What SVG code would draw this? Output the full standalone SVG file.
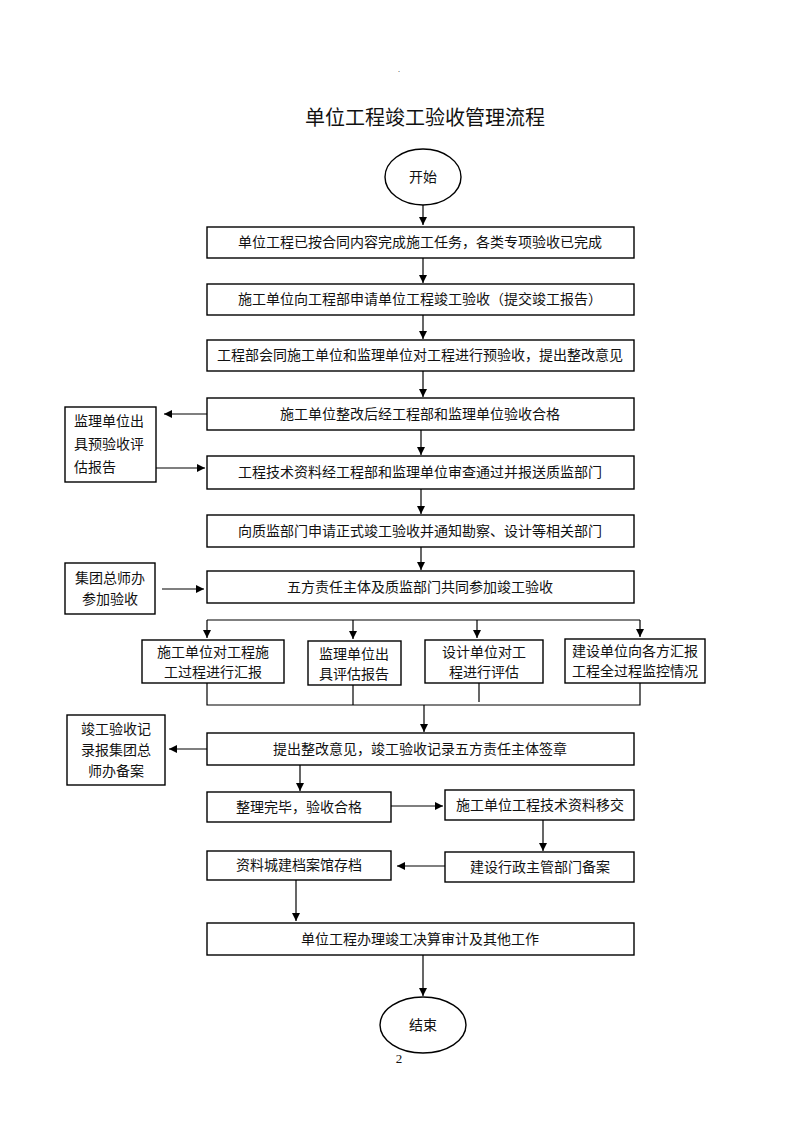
<svg xmlns="http://www.w3.org/2000/svg" width="800" height="1132" viewBox="0 0 800 1132">
<defs>
<marker id="ah" viewBox="0 0 10 10" refX="10" refY="5" markerWidth="8" markerHeight="8" markerUnits="userSpaceOnUse" orient="auto">
<path d="M0,0 L10,5 L0,10 z" fill="#000"/>
</marker>
<style>
text{font-family:"Liberation Serif","Noto Sans CJK SC",serif;font-size:14px;fill:#111;}
.c{text-anchor:middle;}
.t{font-size:20px;}
rect,ellipse{fill:#fff;stroke:#000;stroke-width:1.4;}
#connectors path,#connectors line{stroke:#000;stroke-width:1.2;fill:none;}
.a{marker-end:url(#ah);}
</style>
</defs>
<rect x="0" y="0" width="800" height="1132" style="fill:#fff;stroke:none"/>
<text x="399" y="72" class="c" style="font-size:8px">.</text>
<text x="425" y="125" class="c t">单位工程竣工验收管理流程</text>

<g id="connectors">
<line class="a" x1="423" y1="205" x2="423" y2="225"/>
<line class="a" x1="423" y1="258" x2="423" y2="283"/>
<line class="a" x1="423" y1="315" x2="423" y2="339"/>
<line class="a" x1="423" y1="371" x2="423" y2="397"/>
<line class="a" x1="207" y1="414" x2="164" y2="414"/>
<line class="a" x1="156" y1="468" x2="205" y2="468"/>
<line class="a" x1="421" y1="430" x2="421" y2="455"/>
<line class="a" x1="421" y1="489" x2="421" y2="514"/>
<line class="a" x1="421" y1="547" x2="421" y2="570"/>
<line class="a" x1="162" y1="589" x2="204" y2="589"/>
<path d="M207,620 L640,620"/>
<line class="a" x1="207" y1="620" x2="207" y2="638"/>
<line class="a" x1="353" y1="620" x2="353" y2="639"/>
<line class="a" x1="477" y1="620" x2="477" y2="638"/>
<line class="a" x1="640" y1="620" x2="640" y2="637"/>
<path d="M207,683 L207,705 L640,705 L640,683"/>
<path d="M353,685 L353,705"/>
<path d="M479,683 L479,702"/>
<line class="a" x1="424" y1="705" x2="424" y2="732"/>
<line class="a" x1="207" y1="749" x2="169" y2="749"/>
<line class="a" x1="300" y1="765" x2="300" y2="791"/>
<line class="a" x1="391" y1="806" x2="443" y2="806"/>
<line class="a" x1="543" y1="820" x2="543" y2="851"/>
<line class="a" x1="445" y1="866" x2="397" y2="866"/>
<line class="a" x1="296" y1="880" x2="296" y2="921"/>
<line class="a" x1="423" y1="955" x2="423" y2="996"/>
</g>

<g id="start"><ellipse cx="423" cy="177" rx="38" ry="28"/><text x="423" y="182" class="c">开始</text></g>
<g id="n1"><rect x="207" y="227" width="427" height="31"/><text x="420" y="247" class="c">单位工程已按合同内容完成施工任务，各类专项验收已完成</text></g>
<g id="n2"><rect x="207" y="284" width="427" height="31"/><text x="420" y="304" class="c">施工单位向工程部申请单位工程竣工验收（提交竣工报告）</text></g>
<g id="n3"><rect x="207" y="340" width="427" height="31"/><text x="420" y="360" class="c">工程部会同施工单位和监理单位对工程进行预验收，提出整改意见</text></g>
<g id="n4"><rect x="207" y="398" width="427" height="32"/><text x="420" y="419" class="c">施工单位整改后经工程部和监理单位验收合格</text></g>
<g id="s1"><rect x="65" y="407" width="91" height="75"/><text x="74" y="426">监理单位出</text><text x="74" y="449">具预验收评</text><text x="74" y="472">估报告</text></g>
<g id="n5"><rect x="207" y="456" width="427" height="33"/><text x="420" y="477" class="c">工程技术资料经工程部和监理单位审查通过并报送质监部门</text></g>
<g id="n6"><rect x="207" y="515" width="427" height="32"/><text x="420" y="536" class="c">向质监部门申请正式竣工验收并通知勘察、设计等相关部门</text></g>
<g id="n7"><rect x="207" y="571" width="427" height="32"/><text x="420" y="592" class="c">五方责任主体及质监部门共同参加竣工验收</text></g>
<g id="s2"><rect x="65" y="563" width="90" height="51"/><text x="110" y="583" class="c">集团总师办</text><text x="110" y="604" class="c">参加验收</text></g>
<g id="b1"><rect x="142" y="640" width="142" height="43"/><text x="213" y="657" class="c">施工单位对工程施</text><text x="213" y="677" class="c">工过程进行汇报</text></g>
<g id="b2"><rect x="308" y="641" width="93" height="44"/><text x="354" y="659" class="c">监理单位出</text><text x="354" y="679" class="c">具评估报告</text></g>
<g id="b3"><rect x="425" y="640" width="118" height="43"/><text x="484" y="657" class="c">设计单位对工</text><text x="484" y="677" class="c">程进行评估</text></g>
<g id="b4"><rect x="565" y="639" width="140" height="44"/><text x="635" y="656" class="c">建设单位向各方汇报</text><text x="635" y="676" class="c">工程全过程监控情况</text></g>
<g id="n8"><rect x="207" y="733" width="427" height="32"/><text x="420" y="754" class="c">提出整改意见，竣工验收记录五方责任主体签章</text></g>
<g id="s3"><rect x="67" y="715" width="98" height="70"/><text x="116" y="734" class="c">竣工验收记</text><text x="116" y="755" class="c">录报集团总</text><text x="116" y="776" class="c">师办备案</text></g>
<g id="n9"><rect x="207" y="792" width="184" height="30"/><text x="299" y="812" class="c">整理完毕，验收合格</text></g>
<g id="n10"><rect x="445" y="790" width="189" height="30"/><text x="540" y="810" class="c">施工单位工程技术资料移交</text></g>
<g id="n11"><rect x="445" y="852" width="189" height="30"/><text x="540" y="872" class="c">建设行政主管部门备案</text></g>
<g id="n12"><rect x="207" y="851" width="184" height="29"/><text x="299" y="870" class="c">资料城建档案馆存档</text></g>
<g id="n13"><rect x="207" y="923" width="427" height="32"/><text x="420" y="944" class="c">单位工程办理竣工决算审计及其他工作</text></g>
<g id="end"><ellipse cx="423" cy="1025" rx="43" ry="28"/><text x="423" y="1030" class="c">结束</text></g>
<text x="399" y="1063" class="c" style="font-size:13px">2</text>
</svg>
